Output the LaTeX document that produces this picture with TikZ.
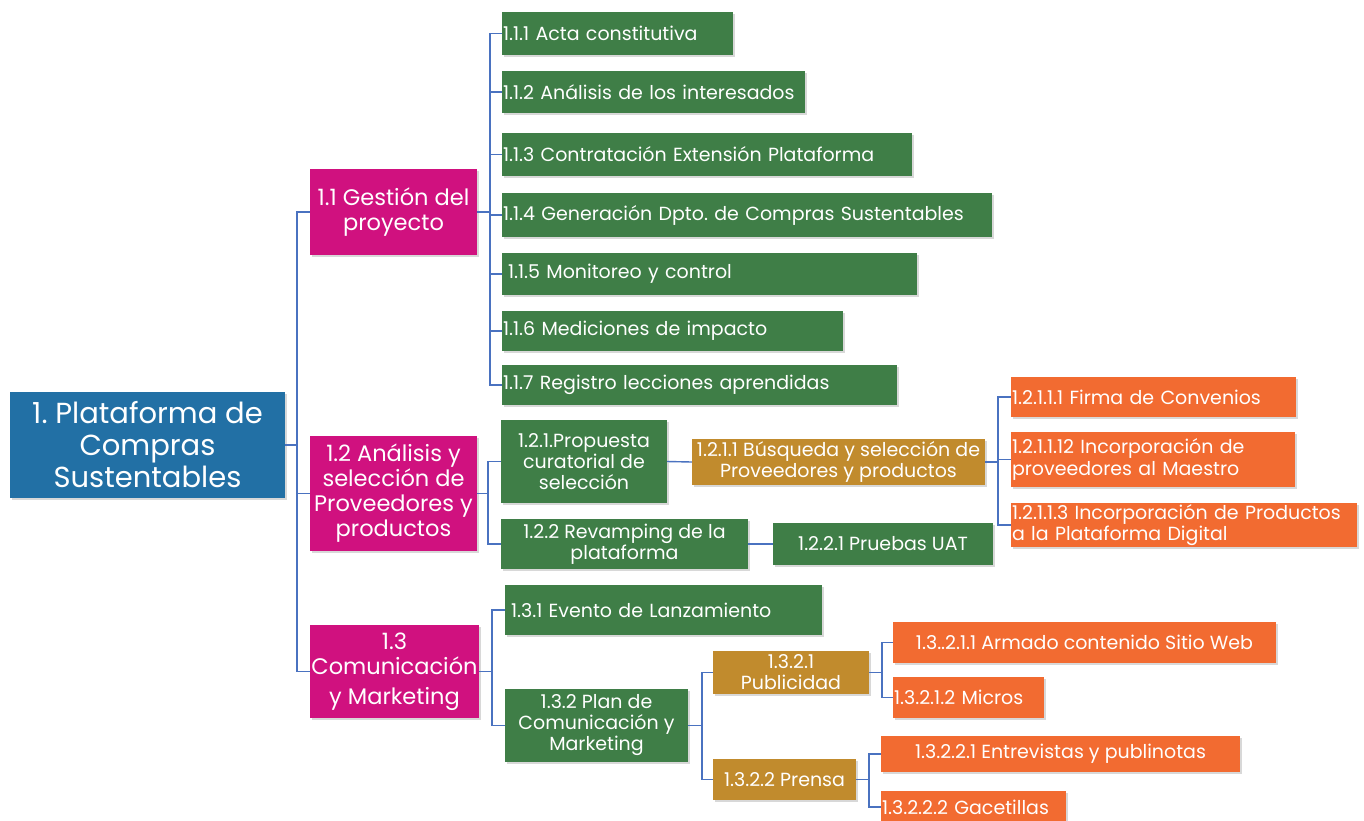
\documentclass[tikz,border=0pt]{standalone}
\usepackage{fontspec}
\setmainfont{Poppins}
\usetikzlibrary{shadows}
\definecolor{cRoot}{HTML}{2270A5}
\definecolor{cMag}{HTML}{D0117F}
\definecolor{cGrn}{HTML}{3F7E47}
\definecolor{cGold}{HTML}{C18B2D}
\definecolor{cOrg}{HTML}{F26B31}
\definecolor{cLine}{HTML}{4A72C0}
\frenchspacing
\begin{document}
\begin{tikzpicture}[x=1pt,y=-1pt,
  base/.style={inner sep=1pt, text=white, drop shadow={shadow xshift=1.5pt, shadow yshift=-1.5pt, opacity=0.3}},
  rootbox/.style={base, fill=cRoot, font=\fontsize{29}{32}\selectfont, align=center},
  mag/.style={base, fill=cMag, font=\fontsize{22.5}{25}\selectfont, align=center},
  grn/.style={base, fill=cGrn, font=\fontsize{19}{21}\selectfont},
  gold/.style={base, fill=cGold, font=\fontsize{19}{21}\selectfont},
  org/.style={base, fill=cOrg, font=\fontsize{19}{21.5}\selectfont},
  conn/.style={draw=cLine, line width=1.4pt}]
\clip (0,0) rectangle (1364,820);
\fill[white] (0,0) rectangle (1364,820);
% root
\node[rootbox, minimum width=275, minimum height=106] (root) at (147.5,445) {1. Plataforma de\\Compras\\Sustentables};
% level 1
\node[mag, minimum width=167, minimum height=86] (l11) at (393.5,212) {1.1 Gestión del\\proyecto};
\node[mag, minimum width=167, minimum height=115] (l12) at (393.5,493.5) {1.2 Análisis y\\selección de\\Proveedores y\\productos};
\node[mag, minimum width=169, minimum height=93] (l13) at (394.5,671.5) {1.3\\Comunicación\\[5pt]y Marketing};
% 1.1.x
\node[grn, text width=229, align=left, minimum height=43] (a1) at (617.5,33.5) {1.1.1 Acta constitutiva};
\node[grn, text width=301, align=left, minimum height=42] (a2) at (653.5,92) {1.1.2 Análisis de los interesados};
\node[grn, text width=408, align=left, minimum height=43] (a3) at (707,154.5) {1.1.3 Contratación Extensión Plataforma};
\node[grn, text width=488, align=left, minimum height=44] (a4) at (747,215) {1.1.4 Generación Dpto. de Compras Sustentables};
\node[grn, text width=413, align=left, minimum height=42] (a5) at (709.5,274) {\hspace{5pt}1.1.5 Monitoreo y control};
\node[grn, text width=339, align=left, minimum height=40] (a6) at (672.5,331) {1.1.6 Mediciones de impacto};
\node[grn, text width=393, align=left, minimum height=40] (a7) at (699.5,385) {1.1.7 Registro lecciones aprendidas};
% 1.2.x
\node[grn, align=center, minimum width=166, minimum height=83] (b1) at (584,461.5) {1.2.1.Propuesta\\curatorial de\\selección};
\node[grn, align=center, minimum width=247, minimum height=50] (b2) at (624.5,544) {1.2.2 Revamping de la\\plataforma};
\node[gold, align=center, minimum width=293, minimum height=46] (b11) at (838.5,462) {1.2.1.1 Búsqueda y selección de\\Proveedores y productos};
\node[grn, align=center, minimum width=220, minimum height=42] (b21) at (883,544) {1.2.2.1 Pruebas UAT};
\node[org, text width=283, align=left, minimum height=40] (c1) at (1153.5,397) {1.2.1.1.1 Firma de Convenios};
\node[org, text width=282, align=left, minimum height=55] (c2) at (1153,459.5) {1.2.1.1.12 Incorporación de\\proveedores al Maestro};
\node[org, text width=344, align=left, minimum height=44] (c3) at (1184,525) {1.2.1.1.3 Incorporación de Productos\\a la Plataforma Digital};
% 1.3.x
\node[grn, text width=305, align=left, inner xsep=6pt, minimum height=50] (d1) at (663.5,610) {1.3.1 Evento de Lanzamiento};
\node[grn, align=center, minimum width=183, minimum height=73] (d2) at (596.5,725.5) {1.3.2 Plan de\\Comunicación y\\Marketing};
\node[gold, align=center, minimum width=156, minimum height=43] (e1) at (791,672.5) {1.3.2.1\\Publicidad};
\node[gold, align=center, minimum width=143, minimum height=41] (e2) at (784.5,779.5) {1.3.2.2 Prensa};
\node[org, align=center, minimum width=383, minimum height=41] (f1) at (1084.5,642.5) {1.3..2.1.1 Armado contenido Sitio Web};
\node[org, text width=149, align=left, minimum height=41] (f2) at (968.5,697.5) {1.3.2.1.2 Micros};
\node[org, align=center, minimum width=359, minimum height=36] (g1) at (1060.5,754) {1.3.2.2.1 Entrevistas y publinotas};
\node[org, text width=183, align=left, minimum height=32] (g2) at (973.5,807) {1.3.2.2.2 Gacetillas};
% bus coordinates
\coordinate (k0) at (297,0);
\coordinate (k1) at (490,0);
\coordinate (k2) at (488,0);
\coordinate (k3) at (492,0);
\coordinate (k4) at (998,0);
\coordinate (k5) at (702,0);
\coordinate (k6) at (882,0);
\coordinate (k7) at (869,0);
% connectors
\foreach \c in {l11,l12,l13} \draw[conn] (root.east) -- (root.east -| k0) |- (\c.west);
\foreach \c in {a1,a2,a3,a4,a5,a6,a7} \draw[conn] (l11.east) -- (l11.east -| k1) |- (\c.west);
\foreach \c in {b1,b2} \draw[conn] (l12.east) -- (l12.east -| k2) |- (\c.west);
\foreach \c in {d1,d2} \draw[conn] (l13.east) -- (l13.east -| k3) |- (\c.west);
\draw[conn] (b1.east) -- (b11.west);
\draw[conn] (b2.east) -- (b21.west);
\foreach \c in {c1,c2,c3} \draw[conn] (b11.east) -- (b11.east -| k4) |- (\c.west);
\foreach \c in {e1,e2} \draw[conn] (d2.east) -- (d2.east -| k5) |- (\c.west);
\foreach \c in {f1,f2} \draw[conn] (e1.east) -- (e1.east -| k6) |- (\c.west);
\foreach \c in {g1,g2} \draw[conn] (e2.east) -- (e2.east -| k7) |- (\c.west);
\end{tikzpicture}
\end{document}
